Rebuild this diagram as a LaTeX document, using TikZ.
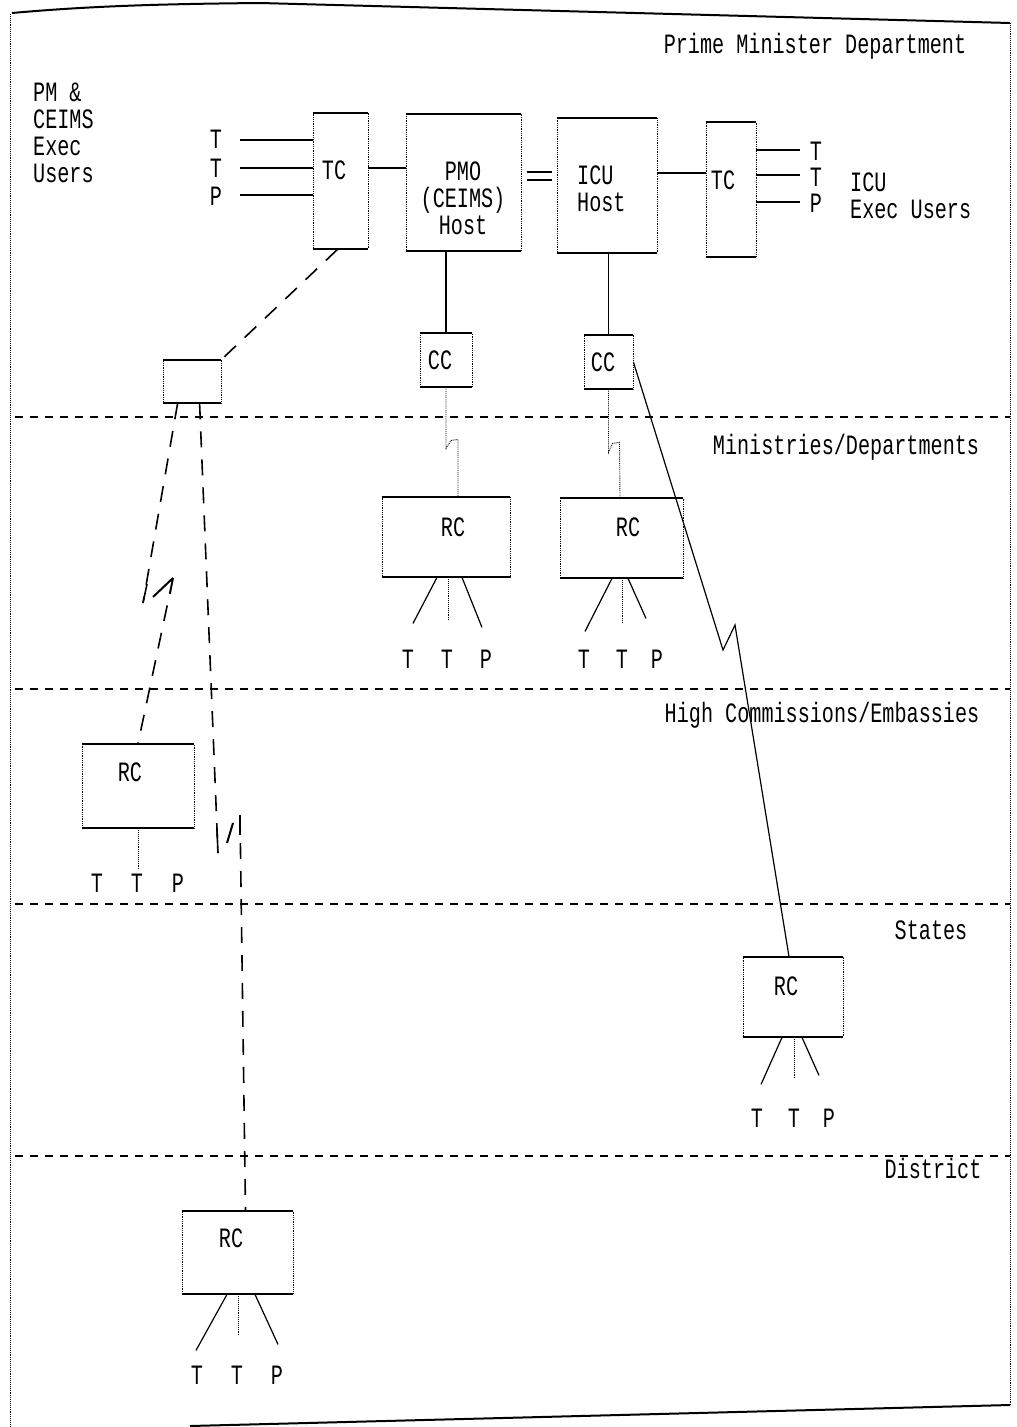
\documentclass[tikz,border=0pt]{standalone}
\usepackage{fontspec}
\newfontfamily\dm[FakeStretch=0.72]{Liberation Mono}
\begin{document}
\begin{tikzpicture}[x=1pt,y=-1pt,
  txt/.style={font=\dm\fontsize{28}{27}\selectfont, inner sep=0pt, align=left},
  box/.style={draw, densely dotted, line width=0.8pt, inner sep=0pt},
  boxedge/.style={line width=2pt},
  conn/.style={line width=1.2pt},
  dline/.style={line width=1.6pt, dash pattern=on 16pt off 12pt},
  layersep/.style={line width=1.8pt, dash pattern=on 8pt off 7pt},
  dotln/.style={line width=0.9pt, densely dotted}]
\useasboundingbox (0,0) rectangle (1017,1427);
% frame
\draw[line width=2pt] (12,13) .. controls (90,6) and (160,4) .. (260,3) -- (1010,23);
\draw[dotln] (1010,23) -- (1010,1405);
\draw[dotln] (10,14) -- (10,1427);
\draw[line width=2pt] (190,1426) -- (1010,1405);
% layer separators
\draw[layersep] (15,417) -- (1010,417);
\draw[layersep] (15,689) -- (1010,689);
\draw[layersep] (15,904) -- (1010,904);
\draw[layersep] (15,1156) -- (1010,1156);
% layer labels
\node[txt] (lpm) at (815,46) {Prime Minister Department};
\node[txt] (lmin) at (846,447) {Ministries/Departments};
\node[txt] (lhc) at (822,715) {High Commissions/Embassies};
\node[txt] (lst) at (931,930) {States};
\node[txt] (ldi) at (933,1168) {District};
\node[txt, anchor=west] (lusers) at (33,133) {PM \&\\CEIMS\\Exec\\Users};
\node[txt, anchor=west] (licu) at (850,196) {ICU\\Exec Users};
% boxes
\node[box, minimum width=55, minimum height=136] (tcL) at (340.5,181) {};
\node[box, minimum width=115, minimum height=137] (pmo) at (463.5,182.5) {};
\node[box, minimum width=100, minimum height=135] (icu) at (607,185.5) {};
\node[box, minimum width=50, minimum height=135] (tcR) at (731,189.5) {};
\node[box, minimum width=52, minimum height=54] (ccL) at (446,360) {};
\node[box, minimum width=49, minimum height=54] (ccR) at (608.5,362) {};
\node[box, minimum width=58, minimum height=43] (sb) at (192,381.5) {};
\node[box, minimum width=128, minimum height=80] (rcM1) at (446,537) {};
\node[box, minimum width=123, minimum height=80] (rcM2) at (621.5,538) {};
\node[box, minimum width=112, minimum height=84] (rcH) at (138,786) {};
\node[box, minimum width=100, minimum height=80] (rcS) at (793,997) {};
\node[box, minimum width=111, minimum height=83] (rcD) at (237.5,1252.5) {};
\foreach \n in {tcL,pmo,icu,tcR,ccL,ccR,sb,rcM1,rcM2,rcH,rcS,rcD}{
  \draw[boxedge] (\n.north west) -- (\n.north east);
  \draw[boxedge] (\n.south west) -- (\n.south east);
}
% box texts
\node[txt] (ttcL) at (334,170) {TC};
\node[txt, align=center] (tpmo) at (463,198) {PMO\\(CEIMS)\\Host};
\node[txt, anchor=west] (ticu) at (577,189) {ICU\\Host};
\node[txt] (ttcR) at (723,180) {TC};
\node[txt] (tccL) at (440,360) {CC};
\node[txt] (tccR) at (603,362) {CC};
\node[txt] (trcM1) at (453,527) {RC};
\node[txt] (trcM2) at (628,527) {RC};
\node[txt] (trcH) at (130,772) {RC};
\node[txt] (trcS) at (786,986) {RC};
\node[txt] (trcD) at (231,1238) {RC};
% top-left terminals
\node[txt, font=\dm\fontsize{28}{28.5}\selectfont] (lTTP) at (216,168) {T\\T\\P};
\draw[conn] (240,140) -- (tcL.west |- 240,140);
\draw[conn] (240,168) -- (tcL.west |- 240,168);
\draw[conn] (240,195) -- (tcL.west |- 240,195);
% top-right terminals
\node[txt, font=\dm\fontsize{28}{26}\selectfont] (rTTP) at (816,177) {T\\T\\P};
\draw[conn] (tcR.east |- 756,150) -- (800,150);
\draw[conn] (tcR.east |- 756,175) -- (800,175);
\draw[conn] (tcR.east |- 756,202) -- (800,202);
% host links
\draw[conn] ([yshift=13]tcL.east) -- ++(38,0);
\draw[conn] ([xshift=6,yshift=10.5]pmo.east) -- ++(25,0);
\draw[conn] ([xshift=6,yshift=2.5]pmo.east) -- ++(25,0);
\draw[conn] ([yshift=12.5]icu.east) -- ++(49,0);
\draw[conn] (pmo.south -| ccL.north) -- (ccL.north);
\draw[conn] (icu.south -| ccR.north) -- (ccR.north);
% CC to RC (dotted with hook)
\draw[dotln] (ccL.south) -- ++(0,61) -- ++(5,-8) -- ++(7,-1) -- ([xshift=12]rcM1.north);
\draw[dotln] (ccR.south) -- ++(0,63) -- ++(4,-9) -- ++(7,-1) -- ([xshift=-1.5]rcM2.north);
% long link CC to States RC
\draw[conn] (ccR.east) -- (723,650) -- (735,625) -- ([xshift=-4]rcS.north);
% TC to small box
\draw[dline] ([xshift=-3]tcL.south) -- (sb.north east);
% small box to HC RC (with lightning)
\draw[dline] ([xshift=15]sb.south west) -- (143,603);
\draw[line width=1.6pt] (147,584) -- (143,603);
\draw[line width=2pt] (153,597) -- (173,578);
\draw[line width=1.6pt] (173,578) -- (170,594);
\draw[dline] (173,578) -- (rcH.north);
% small box to District RC (with lightning)
\draw[dline] ([xshift=37]sb.south west) -- (218,853);
\draw[line width=1.6pt] (217,830) -- (218,853);
\draw[line width=2pt] (227,843) -- (233,823);
\draw[line width=1.6pt] (240,815) -- (240,835);
\draw[dline] (240,815) -- ([xshift=8]rcD.north);
% RC terminals: Ministries left
\draw[conn] ([xshift=-9]rcM1.south) -- ++(-24,46);
\draw[dotln] ([xshift=2]rcM1.south) -- ++(0,43);
\draw[conn] ([xshift=16]rcM1.south) -- ++(20,50);
\node[txt] (m1a) at (408,659) {T};
\node[txt] (m1b) at (447,659) {T};
\node[txt] (m1c) at (486,659) {P};
% Ministries right
\draw[conn] ([xshift=-9.5]rcM2.south) -- ++(-27,53);
\draw[dotln] ([xshift=0.5]rcM2.south) -- ++(0,44);
\draw[conn] ([xshift=6.5]rcM2.south) -- ++(18,40);
\node[txt] (m2a) at (584,659) {T};
\node[txt] (m2b) at (622,659) {T};
\node[txt] (m2c) at (657,659) {P};
% HC
\draw[dotln] (rcH.south) -- ++(0,40);
\node[txt] (ha) at (97,883) {T};
\node[txt] (hb) at (137,883) {T};
\node[txt] (hc) at (178,883) {P};
% States
\draw[conn] ([xshift=-11]rcS.south) -- ++(-21,47);
\draw[dotln] ([xshift=1]rcS.south) -- ++(0,41);
\draw[conn] ([xshift=9]rcS.south) -- ++(17,38);
\node[txt] (sa) at (757,1118) {T};
\node[txt] (sb2) at (794,1118) {T};
\node[txt] (sc) at (829,1118) {P};
% District
\draw[conn] ([xshift=-10.5]rcD.south) -- ++(-31,56);
\draw[dotln] ([xshift=0.5]rcD.south) -- ++(0,41);
\draw[conn] ([xshift=17.5]rcD.south) -- ++(23,50);
\node[txt] (da) at (197,1375) {T};
\node[txt] (db) at (237,1375) {T};
\node[txt] (dc) at (277,1375) {P};
\end{tikzpicture}
\end{document}
